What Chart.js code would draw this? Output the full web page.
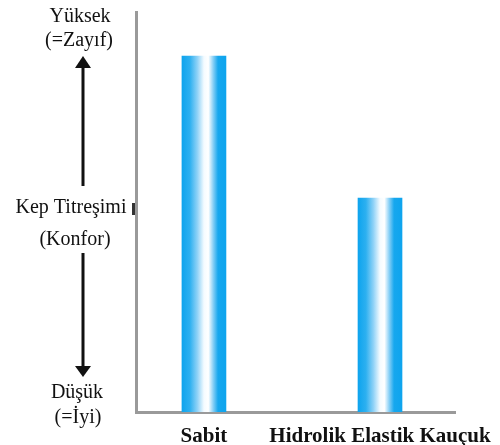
<!DOCTYPE html>
<html>
<head>
<meta charset="utf-8">
<script src="https://cdn.jsdelivr.net/npm/chart.js@4"></script>
<style>
  html, body { margin: 0; padding: 0; background: #fff; }
  #wrap { width: 500px; height: 445px; }
</style>
</head>
<body>
<div id="wrap"><canvas id="myChart"></canvas></div>
<script>
// Data
const categories = ['Sabit', 'Hidrolik Elastik Kauçuk'];
const vibration = [89, 53.5];
const labelHigh = ['Yüksek', '(=Zayıf)'];
const labelMid = ['Kep Titreşimi', '(Konfor)'];
const labelLow = ['Düşük', '(=İyi)'];

const serif = '"Liberation Serif", "Times New Roman", serif';
const axisGray = '#9a9a9a';

function barGradient(context) {
    const chart = context.chart;
    if (!chart.chartArea) return '#18a8ee';
    const xs = chart.scales.x;
    const cx = xs.getPixelForValue(context.raw.x);
    const g = chart.ctx.createLinearGradient(cx - 22, 0, cx + 22, 0);
    g.addColorStop(0, '#0ea4ee');
    g.addColorStop(0.18, '#2db0f0');
    g.addColorStop(0.35, '#8fd2f7');
    g.addColorStop(0.5, '#f4fbff');
    g.addColorStop(0.6, '#ffffff');
    g.addColorStop(0.72, '#7ccbf5');
    g.addColorStop(0.82, '#16a7ee');
    g.addColorStop(1, '#0ea4ee');
    return g;
}

// left side labels and arrows
const sideLabels = {
    id: 'sideLabels',
    afterDraw(chart) {
        const ctx = chart.ctx;
        const top = chart.chartArea.top;
        ctx.save();
        ctx.fillStyle = '#111';
        ctx.font = '20px ' + serif;
        ctx.textAlign = 'center';
        ctx.textBaseline = 'middle';
        ctx.fillText(labelHigh[0], 80, top + 5);
        ctx.fillText(labelHigh[1], 79, top + 29);
        ctx.fillText(labelMid[0], 71, top + 196);
        ctx.fillText(labelMid[1], 75, top + 228);
        ctx.fillText(labelLow[0], 77, top + 381);
        ctx.fillText(labelLow[1], 78, top + 406);

        // arrows
        const ax = 83;
        ctx.strokeStyle = '#111';
        ctx.lineWidth = 3;
        ctx.beginPath();
        ctx.moveTo(ax, top + 52);
        ctx.lineTo(ax, top + 174);
        ctx.moveTo(ax, top + 241);
        ctx.lineTo(ax, top + 358);
        ctx.stroke();
        ctx.beginPath();
        ctx.moveTo(ax, top + 44);
        ctx.lineTo(ax - 8, top + 56);
        ctx.lineTo(ax + 8, top + 56);
        ctx.closePath();
        ctx.fill();
        ctx.beginPath();
        ctx.moveTo(ax, top + 365);
        ctx.lineTo(ax - 8, top + 354);
        ctx.lineTo(ax + 8, top + 354);
        ctx.closePath();
        ctx.fill();

        // small mark on the axis
        ctx.fillStyle = '#333';
        ctx.fillRect(132, top + 191, 3, 12);
        ctx.restore();
    }
};

const myChartRef = document.getElementById('myChart').getContext('2d');

new Chart(myChartRef, {
    type: 'bar',
    data: {
        datasets: [
            {
                data: vibration.map((v, i) => ({ x: i, y: v })),
                backgroundColor: barGradient,
                barThickness: 44,
                borderWidth: 0
            }
        ]
    },
    options: {
        responsive: true,
        maintainAspectRatio: false,
        animation: false,
        layout: { padding: { top: 12, right: 45, left: 0, bottom: 0 } },
        plugins: {
            legend: { display: false },
            tooltip: { enabled: false }
        },
        scales: {
            x: {
                type: 'linear',
                offset: false,
                min: -0.386,
                max: 1.426,
                afterBuildTicks: (s) => { s.ticks = categories.map((c, i) => ({ value: i })); },
                afterFit: (s) => {
                    s.height = 33;
                    s.paddingLeft = 0;
                    s.paddingRight = 0;
                },
                grid: { display: false },
                border: { color: axisGray, width: 3 },
                ticks: {
                    callback: (v) => categories[v],
                    color: '#111',
                    font: { family: serif, size: 21, weight: 'bold' },
                    padding: 4,
                    maxRotation: 0,
                    autoSkip: false
                }
            },
            y: {
                min: 0,
                max: 100,
                afterFit: (s) => { s.width = 136; },
                grid: { display: false },
                border: { color: axisGray, width: 3 },
                ticks: { display: false }
            }
        }
    },
    plugins: [sideLabels]
});
</script>
</body>
</html>
